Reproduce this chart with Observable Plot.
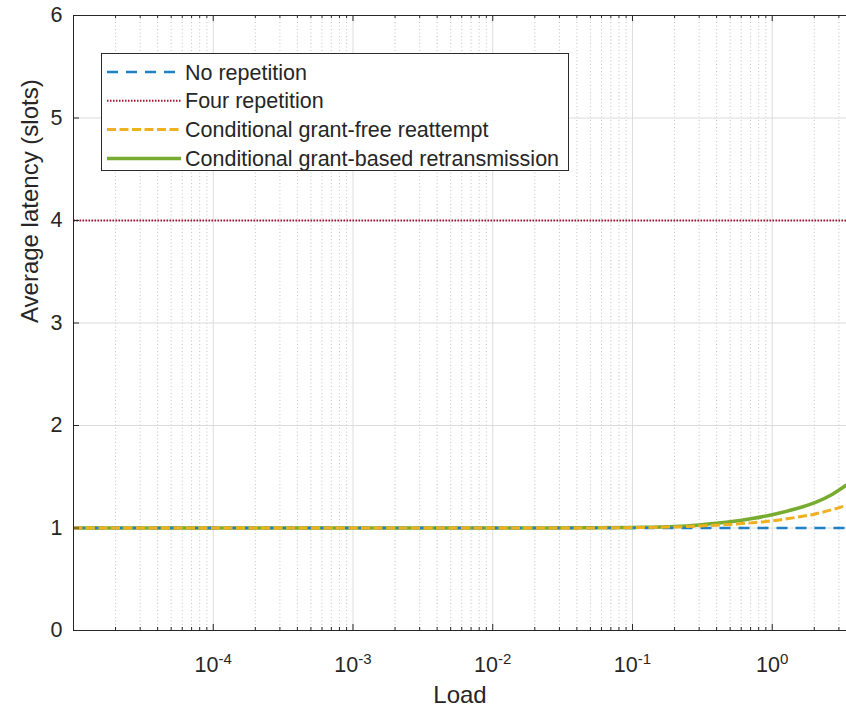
<!DOCTYPE html>
<html><head><meta charset="utf-8">
<script src="https://cdn.jsdelivr.net/npm/d3@7"></script>
<script src="https://cdn.jsdelivr.net/npm/@observablehq/plot@0.6"></script>
<style>
body{margin:0;background:#fff;font-family:"Liberation Sans",Arial,sans-serif;}
#wrap{position:relative;width:846px;height:713px;overflow:hidden;background:#fff;}
#legend{position:absolute;left:101px;top:53px;width:466px;height:116px;border:1px solid #2b2b2b;background:#fff;}
#legend svg{display:block;}
</style></head><body><div id="wrap"><div id="legend"></div></div>
<script>
// ---- data ----
const load = [1e-5, 1e-4, 1e-3, 1e-2, 0.05, 0.1, 0.2, 0.3, 0.5, 0.7, 1, 1.5, 2, 2.7, 3.4];
const noRepetition      = [1, 1, 1, 1, 1, 1, 1, 1, 1, 1, 1, 1, 1, 1, 1];
const fourRepetition    = [4, 4, 4, 4, 4, 4, 4, 4, 4, 4, 4, 4, 4, 4, 4];
const grantFree         = [1, 1, 1, 1, 1.001, 1.004, 1.01, 1.02, 1.035, 1.05, 1.07, 1.105, 1.135, 1.18, 1.22];
const grantBased        = [1, 1, 1, 1, 1.002, 1.006, 1.015, 1.03, 1.06, 1.09, 1.13, 1.19, 1.245, 1.33, 1.42];
const seriesNames = ["No repetition", "Four repetition", "Conditional grant-free reattempt", "Conditional grant-based retransmission"];
const xLabelTicks = [1e-4, 1e-3, 1e-2, 1e-1, 1];
const yTicks = [0, 1, 2, 3, 4, 5, 6];
const xTitle = "Load";
const yTitle = "Average latency (slots)";

// ---- styles ----
const styles = [
  {color: "#1f80c4", width: 2.5, dash: "11,8"},
  {color: "#A2142F", width: 2, dash: "1.5,1.5"},
  {color: "#EDB120", width: 3, dash: "9,3.5"},
  {color: "#77AC30", width: 3.5, dash: null}
];

const W = 846, H = 713;
const mL = 73, mR = 0, mT = 15, mB = 83;
const plotH = H - mT - mB, plotW = W - mL - mR;
const xMin = 1e-5, xMax = 3.4;
const majors = [1e-5, 1e-4, 1e-3, 1e-2, 1e-1, 1];
const minors = [];
for (const m of majors) for (let k = 2; k <= 9; k++) { const v = k * m; if (v <= xMax) minors.push(v); }

const lineMark = (vals, s) => Plot.line(vals, {x: load, y: d => d, stroke: s.color, strokeWidth: s.width,
  strokeDasharray: s.dash || undefined, strokeLinecap: "butt", curve: "monotone-x"});

const chart = Plot.plot({
  width: W, height: H, marginLeft: mL, marginRight: mR, marginTop: mT, marginBottom: mB,
  style: {fontFamily: '"Liberation Sans", Arial, sans-serif', fontSize: "21.5px", color: "#262626", background: "#fff"},
  x: {type: "log", domain: [xMin, xMax], axis: null},
  y: {domain: [0, 6]},
  marks: [
    Plot.ruleX(minors, {stroke: "#c4c4c4", strokeDasharray: "1,2.5", strokeWidth: 1}),
    Plot.ruleX(majors, {stroke: "#dcdcdc", strokeWidth: 1}),
    Plot.ruleY(yTicks, {stroke: "#dcdcdc", strokeWidth: 1}),
    lineMark(fourRepetition, styles[1]),
    lineMark(grantBased, styles[3]),
    lineMark(noRepetition, styles[0]),
    lineMark(grantFree, styles[2]),
    // frame (left, bottom, top)
    Plot.ruleX([xMin], {stroke: "#262626"}),
    Plot.ruleY([0, 6], {stroke: "#262626"}),
    // inward ticks
    Plot.tickX(majors, {stroke: "#262626", insetTop: plotH - 6}),
    Plot.tickX(minors, {stroke: "#262626", insetTop: plotH - 3}),
    Plot.tickX(majors, {stroke: "#262626", insetBottom: plotH - 6}),
    Plot.tickX(minors, {stroke: "#262626", insetBottom: plotH - 3}),
    Plot.tickY(yTicks, {stroke: "#262626", insetRight: plotW - 6}),
    Plot.axisY(yTicks, {tickSize: 0, tickPadding: 11, fontSize: 21.5, label: null, tickFormat: d => String(d)}),
    Plot.text(xLabelTicks, {x: d => d, frameAnchor: "bottom", dy: 35, fontSize: 21.5, lineAnchor: "middle",
      text: d => "10^" + Math.round(Math.log10(d)), fill: "#262626"}),
    Plot.text([yTitle], {frameAnchor: "left", dx: -43, rotate: -90, fontSize: 24, text: d => d, fill: "#262626"}),
    Plot.text([xTitle], {frameAnchor: "bottom", dy: 72, fontSize: 24, text: d => d, fill: "#262626"})
  ]
});

// superscripts for log tick labels
d3.select(chart).selectAll("text").each(function () {
  const t = this.textContent;
  if (!t || t.indexOf("^") < 0) return;
  const [base, exp] = t.split("^");
  while (this.firstChild) this.removeChild(this.firstChild);
  this.appendChild(document.createTextNode(base));
  const ts = document.createElementNS("http://www.w3.org/2000/svg", "tspan");
  ts.setAttribute("dy", "-8");
  ts.setAttribute("font-size", "15");
  ts.textContent = exp;
  this.appendChild(ts);
});

const wrap = document.getElementById("wrap");
wrap.insertBefore(chart, wrap.firstChild);

// legend
const lg = d3.select("#legend").append("svg").attr("width", 466).attr("height", 116);
seriesNames.forEach((name, i) => {
  const y = 18 + i * 28.8;
  const s = styles[i];
  lg.append("line").attr("x1", 5).attr("x2", 79).attr("y1", y).attr("y2", y)
    .attr("stroke", s.color).attr("stroke-width", s.width)
    .attr("stroke-dasharray", s.dash || null);
  lg.append("text").attr("x", 83).attr("y", y).attr("dy", "0.35em")
    .attr("font-size", 21.5).attr("fill", "#262626")
    .attr("font-family", '"Liberation Sans", Arial, sans-serif').text(name);
});
</script>
</body></html>
